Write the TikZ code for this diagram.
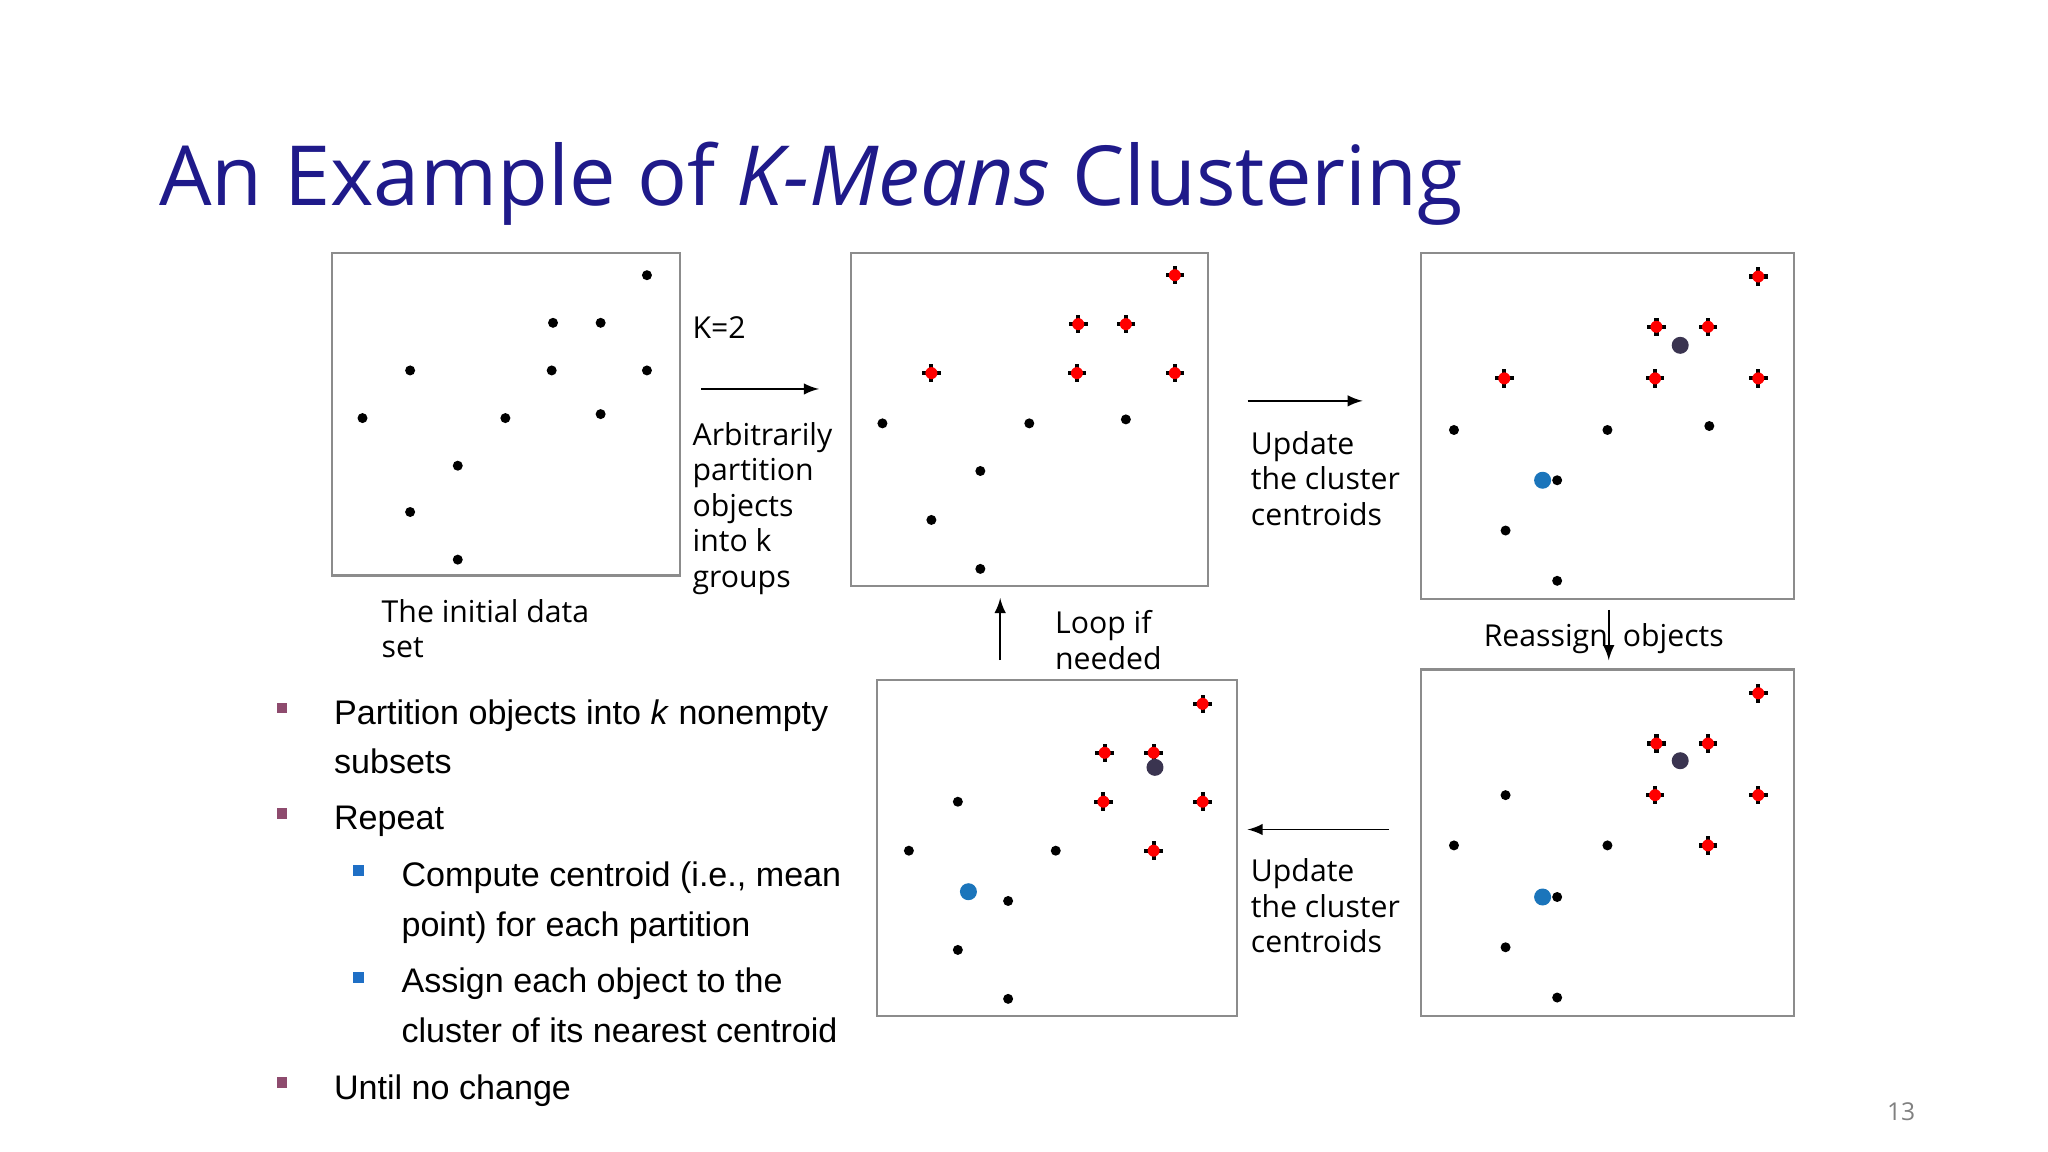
\documentclass[tikz,border=0pt]{standalone}
\usepackage{fontspec}
\setmainfont{Open Sans}
\newfontfamily\arialfont{Liberation Sans}
\usetikzlibrary{positioning}
\definecolor{titleblue}{HTML}{1F1A8A}
\definecolor{bulletred}{HTML}{8E4B6E}
\definecolor{bulletblue}{HTML}{1F6FC5}
\definecolor{ctrblue}{HTML}{1B75BB}
\definecolor{ctrdark}{HTML}{3A3450}
\tikzset{
    panel/.style={draw=black!45, line width=0.6pt},
    dot/.style={circle, fill=black, inner sep=0, minimum size=0.1cm},
    ctr/.style={circle, fill=#1, inner sep=0, minimum size=0.17cm},
    hbar/.style={fill=black, inner sep=0, minimum width=0.185cm, minimum height=0.042cm},
    vbar/.style={fill=black, inner sep=0, minimum width=0.042cm, minimum height=0.185cm},
    rdot/.style={circle, fill=red, inner sep=0, minimum size=0.12cm},
    lbl/.style={font=\fontsize{8.6}{10.1}\selectfont, align=left, anchor=base west, inner sep=0},
    blt/.style={font=\arialfont\fontsize{9.7}{14.2}\selectfont, align=left, anchor=base west, inner sep=0},
    arr/.style={-latex, line width=0.5pt}
}
\newcommand{\crs}[2]{%
    \node[hbar] at #1 {};
    \node[vbar] at #1 {};
    \node[rdot] (#2) at #1 {};}
\begin{document}
\begin{tikzpicture}[x=0.01323cm, y=-0.01323cm]
    \useasboundingbox (0,0) rectangle (1548,870);

    % Title
    \node[anchor=base west, inner sep=0, text=titleblue, font=\fontsize{23.6}{28}\selectfont] (title) at (120,155)
        {An Example of \textit{K-Means} Clustering};

    % Panels
    \draw[panel] (251,191) rectangle (514,435);
    \draw[panel] (643,191) rectangle (913,443);
    \draw[panel] (1074,191) rectangle (1356,453);
    \draw[panel] (1074,506) rectangle (1356,768);
    \draw[panel] (663,514) rectangle (935,768);

    % Initial data
    \foreach \p [count=\i] in {(489,208),(418,244),(454,244),(310,280),(417,280),(489,280),(274,316),(382,316),(454,313),(346,352),(310,387),(346,423)}
        \node[dot] (a\i) at \p {};

    % Partitioned
    \foreach \p [count=\i] in {(888,208),(815,245),(851,245),(704,282),(814,282),(888,282)}
        {\crs{\p}{bx\i}}
    \foreach \p [count=\i] in {(667,320),(778,320),(851,317),(741,356),(704,393),(741,430)}
        \node[dot] (b\i) at \p {};

    % Centroids updated
    \foreach \p [count=\i] in {(1329,209),(1252,247),(1291,247),(1137,286),(1251,286),(1329,286)}
        {\crs{\p}{cx\i}}
    \foreach \p [count=\i] in {(1099,325),(1215,325),(1292,322),(1177,363),(1138,401),(1177,439)}
        \node[dot] (c\i) at \p {};
    \node[ctr=ctrdark] (c-dark) at (1270,261) {};
    \node[ctr=ctrblue] (c-blue) at (1166,363) {};

    % Reassigned
    \foreach \p [count=\i] in {(1329,524),(1252,562),(1291,562),(1251,601),(1329,601),(1291,639)}
        {\crs{\p}{dx\i}}
    \foreach \p [count=\i] in {(1138,601),(1099,639),(1215,639),(1177,678),(1138,716),(1177,754)}
        \node[dot] (d\i) at \p {};
    \node[ctr=ctrdark] (d-dark) at (1270,575) {};
    \node[ctr=ctrblue] (d-blue) at (1166,678) {};

    % Updated again
    \foreach \p [count=\i] in {(909,532),(835,569),(872,569),(834,606),(909,606),(872,643)}
        {\crs{\p}{ex\i}}
    \foreach \p [count=\i] in {(724,606),(687,643),(798,643),(762,681),(724,718),(762,755)}
        \node[dot] (e\i) at \p {};
    \node[ctr=ctrdark] (e-dark) at (873,580) {};
    \node[ctr=ctrblue] (e-blue) at (732,674) {};

    % Step labels (base = last line)
    \node[lbl] (k2) at (523,256) {K=2};
    \node[lbl] (part) at (523,444) {Arbitrarily\\partition\\objects\\into k\\groups};
    \node[lbl] (init) at (288,497) {The initial data\\set};
    \node[lbl] (upd1) at (945,397) {Update\\the cluster\\centroids};
    \node[lbl] (reas) at (1121,489) {Reassign\hspace{0.5em}objects};
    \node[lbl] (loop) at (797,506) {Loop if\\needed};
    \node[lbl] (upd2) at (945,720) {Update\\the cluster\\centroids};

    % Arrows
    \coordinate (s1) at (530,294); \coordinate (t1) at (619,294);
    \coordinate (s2) at (943,303); \coordinate (t2) at (1030,303);
    \coordinate (s3) at (1216,461); \coordinate (t3) at (1216,499);
    \coordinate (s4) at (1050,627); \coordinate (t4) at (943,627);
    \coordinate (s5) at (756,499); \coordinate (t5) at (756,452);
    \foreach \i in {1,...,5}
        \draw[arr] (s\i) -- (t\i);

    % Bullets
    \foreach \y in {535,615,818}
        \fill[bulletred] (209,\y-4) rectangle (217,\y+4);
    \foreach \y in {658,739}
        \fill[bulletblue] (267,\y-4) rectangle (275,\y+4);
    \node[blt] (b-part) at (252,585) {Partition objects into \textit{k} nonempty\\subsets};
    \node[blt] (b-rep) at (252,627) {Repeat};
    \node[blt] (b-comp) at (303,708) {Compute centroid (i.e., mean\\point) for each partition};
    \node[blt] (b-asgn) at (303,788) {Assign each object to the\\cluster of its nearest centroid};
    \node[blt] (b-until) at (252,831) {Until no change};

    % Page number
    \node[anchor=base, inner sep=0, text=black!50, font=\fontsize{7}{8}\selectfont] (pg) at (1437,847) {13};
\end{tikzpicture}
\end{document}
